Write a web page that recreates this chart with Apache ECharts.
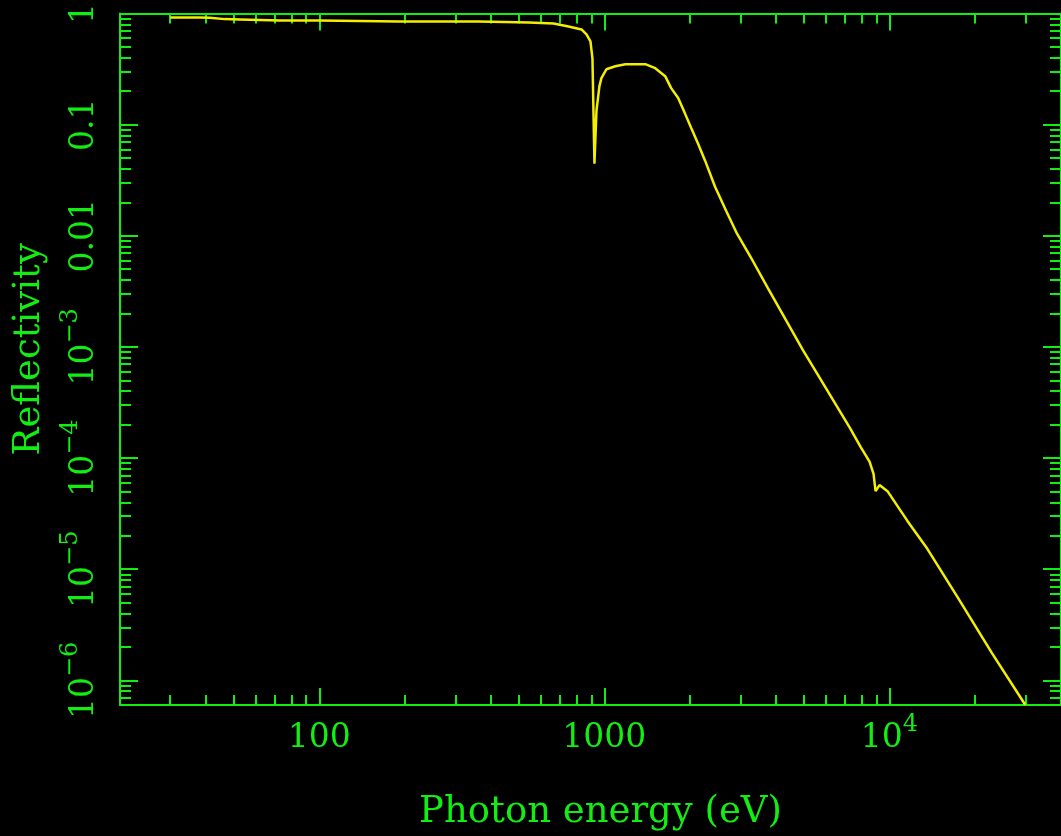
<!DOCTYPE html>
<html>
<head>
<meta charset="utf-8">
<script src="https://cdn.jsdelivr.net/npm/echarts@6/dist/echarts.min.js"></script>
<style>
  html, body { margin: 0; padding: 0; background: #000; }
  #chart { width: 1061px; height: 836px; }
</style>
</head>
<body>
<div id="chart"></div>
<script>
// photon energy (eV) and reflectivity
const energy = [30, 38, 41.3, 46.6, 52.6, 72.5, 100, 190.6, 362.9, 542.9, 663.8, 748.8, 831.6, 865.9, 894.2, 908.6, 923.4, 938.4, 961.3, 976.9, 1017, 1093, 1185, 1392, 1509, 1635, 1716, 1816, 1921, 2016, 2133, 2257, 2446, 2672, 2918, 3323, 3748, 4969, 7252, 7925, 8520, 8800, 8944, 9233, 9848, 11569, 13588, 17300, 22930, 30000]
const reflectivity = [0.921, 0.92, 0.915, 0.89, 0.884, 0.866, 0.866, 0.848, 0.848, 0.831, 0.814, 0.765, 0.719, 0.649, 0.561, 0.395, 0.0445, 0.1326, 0.222, 0.262, 0.315, 0.335, 0.35, 0.35, 0.322, 0.273, 0.213, 0.174, 0.125, 0.0936, 0.0674, 0.0474, 0.0276, 0.0169, 0.0105, 0.0059, 0.00338, 9.42e-4, 1.886e-4, 1.26e-4, 9.3e-5, 7.2e-5, 5.04e-5, 5.71e-5, 5.04e-5, 2.72e-5, 1.526e-5, 5.67e-6, 1.75e-6, 6.0e-7]

// axis ticks
const xMajor = [100, 1000, 10000]
const xLabels = ['100', '1000', '10^4']
const xMinor = [20, 30, 40, 50, 60, 70, 80, 90, 200, 300, 400, 500, 600, 700, 800, 900,
  2000, 3000, 4000, 5000, 6000, 7000, 8000, 9000, 20000, 30000, 40000]
const yMajor = [1, 0.1, 0.01, 1e-3, 1e-4, 1e-5, 1e-6]
const yLabels = ['1', '0.1', '0.01', '10^−3', '10^−4', '10^−5', '10^−6']
const yMinor = [6e-7, 7e-7, 8e-7, 9e-7,
  2e-6, 3e-6, 4e-6, 5e-6, 6e-6, 7e-6, 8e-6, 9e-6,
  2e-5, 3e-5, 4e-5, 5e-5, 6e-5, 7e-5, 8e-5, 9e-5,
  2e-4, 3e-4, 4e-4, 5e-4, 6e-4, 7e-4, 8e-4, 9e-4,
  2e-3, 3e-3, 4e-3, 5e-3, 6e-3, 7e-3, 8e-3, 9e-3,
  0.02, 0.03, 0.04, 0.05, 0.06, 0.07, 0.08, 0.09,
  0.2, 0.3, 0.4, 0.5, 0.6, 0.7, 0.8, 0.9]

const GREEN = '#12ee12'
const YELLOW = '#f4ee00'
const FONT = 'DejaVu Serif'

const labelFor = (values, labels) => v => {
  const i = values.findIndex(t => Math.abs(Math.log10(t / v)) < 1e-6)
  if (i < 0) return ''
  const parts = labels[i].split('^')
  return parts.length > 1 ? `{b|${parts[0]}}{s|${parts[1]}}` : `{b|${parts[0]}}`
}

const rich = {
  b: { fontFamily: FONT, fontSize: 33, color: GREEN, lineHeight: 50 },
  s: { fontFamily: FONT, fontSize: 24, color: GREEN, lineHeight: 20, verticalAlign: 'top' }
}

const lineStyle = { color: GREEN, width: 2 }

const xAxisBase = (position, ticks, len, showLine) => ({
  type: 'log', min: 20, max: 40000, position,
  axisLine: { show: showLine, lineStyle },
  axisTick: { show: true, inside: true, length: len, customValues: ticks, lineStyle },
  axisLabel: { show: false },
  splitLine: { show: false },
  minorTick: { show: false }
})
const yAxisBase = (position, ticks, len, showLine) => ({
  type: 'log', min: 6e-7, max: 1, position,
  axisLine: { show: showLine, lineStyle },
  axisTick: { show: true, inside: true, length: len, customValues: ticks, lineStyle },
  axisLabel: { show: false },
  splitLine: { show: false },
  minorTick: { show: false }
})

const xMain = xAxisBase('bottom', xMajor, 17, true)
xMain.axisLabel = {
  show: true, customValues: xMajor, margin: 8,
  formatter: labelFor(xMajor, xLabels), rich
}
xMain.name = 'Photon energy (eV)'
xMain.nameLocation = 'middle'
xMain.nameGap = 89
xMain.nameTextStyle = { fontFamily: FONT, fontSize: 37, color: GREEN, padding: [0, 0, 0, 20] }

const yMain = yAxisBase('left', yMajor, 18, true)
yMain.axisLabel = {
  show: true, customValues: yMajor, margin: 11, rotate: 90,
  formatter: labelFor(yMajor, yLabels), rich
}
yMain.name = 'Reflectivity'
yMain.nameLocation = 'middle'
yMain.nameRotate = 90
yMain.nameGap = 72
yMain.nameTextStyle = { fontFamily: FONT, fontSize: 37, color: GREEN, padding: [0, 0, 0, 20] }

const chart = echarts.init(document.getElementById('chart'))
chart.setOption({
  animation: false,
  backgroundColor: '#000',
  grid: { left: 120, top: 12, right: -3, bottom: 129 },
  xAxis: [
    xMain,
    xAxisBase('bottom', xMinor, 10, false),
    xAxisBase('top', xMajor, 17, true),
    xAxisBase('top', xMinor, 10, false)
  ],
  yAxis: [
    yMain,
    yAxisBase('left', yMinor, 11, false),
    yAxisBase('right', yMajor, 18, true),
    yAxisBase('right', yMinor, 11, false)
  ],
  series: [{
    type: 'line',
    xAxisIndex: 0,
    yAxisIndex: 0,
    showSymbol: false,
    lineStyle: { color: YELLOW, width: 2.5 },
    data: energy.map((e, i) => [e, reflectivity[i]])
  }]
})
</script>
</body>
</html>
